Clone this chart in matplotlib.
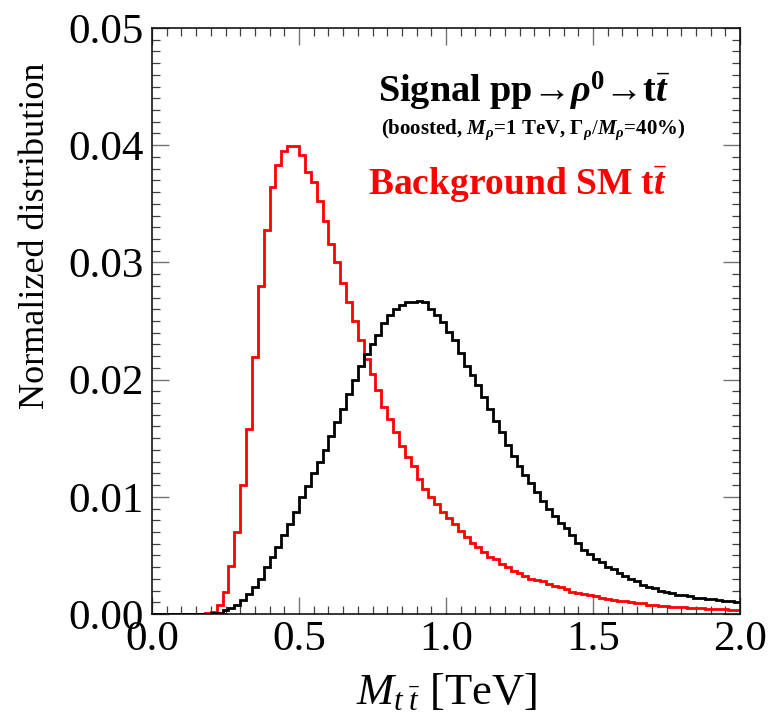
import numpy as np
import matplotlib
matplotlib.use("Agg")
import matplotlib.pyplot as plt
from matplotlib.ticker import MultipleLocator, FormatStrFormatter

# ---------------- data ----------------
bin_width = 0.02  # TeV
n_bins = 100

signal = [
    0, 0, 0, 0, 0, 0, 0, 0, 0, 0,
    0.00005, 0.0001, 0.0003, 0.0005, 0.0008, 0.0012, 0.0017, 0.0023, 0.0030, 0.0040,
    0.0049, 0.0057, 0.0067, 0.0077, 0.0087, 0.0100, 0.0109, 0.0120, 0.0130, 0.0140,
    0.0152, 0.0164, 0.0175, 0.0188, 0.0200, 0.0212, 0.0222, 0.0230, 0.0238, 0.0248,
    0.0255, 0.0260, 0.0264, 0.0266, 0.0266, 0.0267, 0.0266, 0.0260, 0.0255, 0.0249,
    0.0241, 0.0234, 0.0223, 0.0212, 0.0204, 0.0195, 0.0185, 0.0175, 0.0165, 0.0155,
    0.0144, 0.0135, 0.0126, 0.0119, 0.0112, 0.0104, 0.0096, 0.0090, 0.0084, 0.0078,
    0.0073, 0.0067, 0.0061, 0.0055, 0.0051, 0.0047, 0.0044, 0.0040, 0.0038, 0.0035,
    0.0032, 0.0030, 0.0028, 0.0025, 0.0023, 0.0022, 0.0020, 0.0019, 0.0018, 0.0016,
    0.0016, 0.0015, 0.0014, 0.0014, 0.0013, 0.0013, 0.0012, 0.0011, 0.0011, 0.0010,
]

background = [
    0, 0, 0, 0, 0, 0, 0, 0, 0, 0.00005,
    0.0002, 0.0008, 0.0019, 0.0041, 0.0070, 0.0110, 0.0158, 0.0219, 0.0280, 0.0328,
    0.0364, 0.0383, 0.0395, 0.0399, 0.0399, 0.0392, 0.0377, 0.0369, 0.0352, 0.0335,
    0.0316, 0.0300, 0.0282, 0.0266, 0.0250, 0.0234, 0.0218, 0.0205, 0.0191, 0.0177,
    0.0166, 0.0155, 0.0143, 0.0134, 0.0126, 0.0115, 0.0107, 0.0100, 0.0094, 0.0087,
    0.0082, 0.0077, 0.0071, 0.0066, 0.0061, 0.0057, 0.0053, 0.0049, 0.0047, 0.0043,
    0.0040, 0.0037, 0.0035, 0.0032, 0.0030, 0.0029, 0.0028, 0.0026, 0.0024, 0.0023,
    0.0021, 0.0019, 0.0018, 0.0017, 0.0016, 0.0015, 0.0014, 0.0013, 0.0012, 0.0011,
    0.0011, 0.0010, 0.0009, 0.0009, 0.0008, 0.0008, 0.0007, 0.0007, 0.0006, 0.0006,
    0.0006, 0.0005, 0.0005, 0.0005, 0.0004, 0.0004, 0.0004, 0.0004, 0.0003, 0.0003,
]

x_ticks = [0.0, 0.5, 1.0, 1.5, 2.0]
y_ticks = [0.00, 0.01, 0.02, 0.03, 0.04, 0.05]

edges = np.arange(n_bins + 1) * bin_width

# ---------------- style ----------------
plt.rcParams['font.family'] = ['Liberation Serif', 'DejaVu Serif']
plt.rcParams['mathtext.fontset'] = 'custom'
plt.rcParams['mathtext.rm'] = 'Liberation Serif'
plt.rcParams['mathtext.it'] = 'Liberation Serif:italic'
plt.rcParams['mathtext.bf'] = 'Liberation Serif:bold'
plt.rcParams['mathtext.bfit'] = 'Liberation Serif:italic:bold'

fig = plt.figure(figsize=(7.7, 7.16), dpi=100)
ax = fig.add_axes([152 / 770, 1 - 614 / 716, 588 / 770, 586 / 716])

ax.stairs(signal, edges, baseline=None, color='black', lw=2.0, zorder=3)
ax.stairs(background, edges, baseline=None, color='#ff0000', lw=2.0, zorder=2)

ax.set_xlim(0, 2.0)
ax.set_ylim(0, 0.05)
ax.set_xticks(x_ticks)
ax.set_yticks(y_ticks)
ax.xaxis.set_minor_locator(MultipleLocator(0.05))
ax.yaxis.set_minor_locator(MultipleLocator(0.001))
ax.xaxis.set_major_formatter(FormatStrFormatter('%.1f'))
ax.yaxis.set_major_formatter(FormatStrFormatter('%.2f'))

ax.tick_params(which='both', direction='in', top=True, right=True)
ax.tick_params(which='major', length=12, width=1.0, color='0.45', labelsize=31, pad=5)
ax.tick_params(which='minor', length=6, width=0.9, color='0.25')
ax.tick_params(axis='y', which='major', pad=6)
for s in ax.spines.values():
    s.set_linewidth(1.1)
    s.set_color('black')

ax.set_xlabel(r"$M_{t\;\bar{t}}$ [TeV]", fontsize=32, labelpad=9)
ax.set_ylabel("Normalized distribution", fontsize=26)
ax.yaxis.set_label_coords(-0.17, 0.645)

ax.text(0.633, 0.891, r"Signal pp→$\mathbfit{\rho}^{\mathbf{0}}$→t$\bar{\mathbfit{t}}$",
        transform=ax.transAxes, ha='center', va='center', fontsize=27.5, fontweight='bold', color='black')
ax.text(0.648, 0.826, r"(boosted, $\mathbfit{M}_{\mathbfit{\rho}}$=1 TeV, $\mathbf{\Gamma}_{\mathbfit{\rho}}/\mathbfit{M}_{\mathbfit{\rho}}$=40%)",
        transform=ax.transAxes, ha='center', va='center', fontsize=15, fontweight='bold', color='black')
ax.text(0.622, 0.732, r"Background SM t$\bar{\mathbfit{t}}$",
        transform=ax.transAxes, ha='center', va='center', fontsize=27, fontweight='bold', color='#ff0000')

fig.savefig("out.png", dpi=100)
